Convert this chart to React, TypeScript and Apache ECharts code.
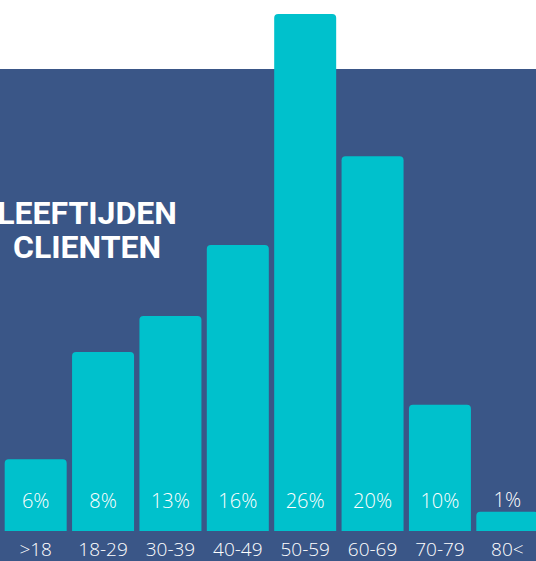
import React, { useEffect, useRef } from "react";
import * as echarts from "echarts";

const categories = [">18", "18-29", "30-39", "40-49", "50-59", "60-69", "70-79", "80<"];
const percentLabels = ["6%", "8%", "13%", "16%", "26%", "20%", "10%", "1%"];
// visual bar heights as drawn in the infographic (relative, tallest = 100)
const barHeights = [13.9, 34.6, 41.6, 55.3, 100, 72.5, 24.4, 3.7];
const titleLines = ["LEEFTIJDEN", "CLIENTEN"];

const BLUE = "#3A5687";
const CYAN = "#00C1CC";
const FONT = "'Open Sans', sans-serif";

export default function App() {
  const ref = useRef<HTMLDivElement>(null);
  useEffect(() => {
    if (!ref.current) return;
    const chart = echarts.init(ref.current, undefined, { renderer: "svg" });
    chart.setOption({
      animation: false,
      backgroundColor: "#ffffff",
      graphic: [
        {
          type: "rect",
          z: -10,
          shape: { x: 0, y: 69, width: 560, height: 492 },
          style: { fill: BLUE },
          silent: true,
        },
        {
          type: "text",
          z: 10,
          x: 87,
          y: 230,
          style: {
            text: titleLines.join("\n"),
            fill: "#ffffff",
            font: "bold 32px Roboto, sans-serif",
            lineHeight: 34,
            textAlign: "center",
            textVerticalAlign: "middle",
          },
        },
      ],
      grid: { left: 2, top: 14, width: 539, height: 517, containLabel: false },
      xAxis: {
        type: "category",
        data: categories,
        axisLine: { show: false },
        axisTick: { show: false },
        axisLabel: {
          color: "#ffffff",
          fontSize: 19,
          fontFamily: FONT,
          fontWeight: 300,
          margin: 8,
        },
      },
      yAxis: {
        type: "value",
        min: 0,
        max: 100,
        show: false,
        splitLine: { show: false },
      },
      series: [
        {
          type: "bar",
          barCategoryGap: "8%",
          itemStyle: { color: CYAN, borderRadius: [4, 4, 0, 0] },
          data: barHeights.map((v, i) => ({
            value: v,
            label: {
              show: true,
              formatter: percentLabels[i],
              position: v < 8 ? "top" : "insideBottom",
              distance: v < 8 ? 2 : 21,
              color: "#ffffff",
              fontSize: 20,
              fontFamily: FONT,
              fontWeight: 300,
            },
          })),
        },
      ],
    });
    return () => chart.dispose();
  }, []);
  return (
    <div
      style={{
        position: "absolute",
        left: 0,
        top: 0,
        width: 536,
        height: 561,
        overflow: "hidden",
      }}
    >
      <div ref={ref} style={{ width: 560, height: 561 }} />
    </div>
  );
}
